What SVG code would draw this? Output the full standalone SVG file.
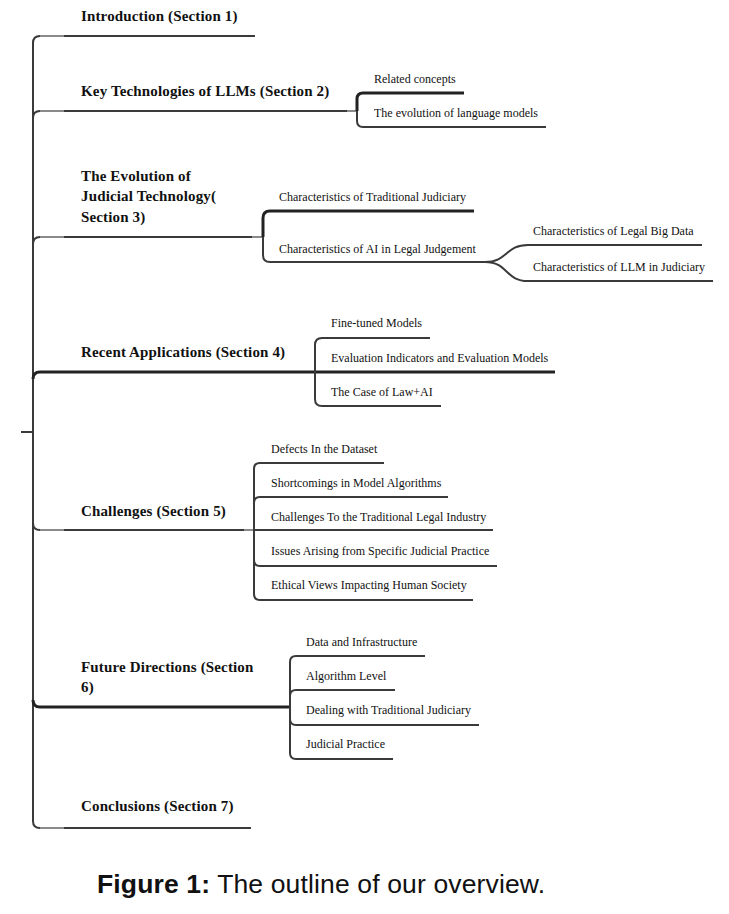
<svg xmlns="http://www.w3.org/2000/svg" width="729" height="914" viewBox="0 0 729 914">
<style>
.main{font-family:"Liberation Serif","Times New Roman",serif;font-weight:bold;font-size:15px;letter-spacing:0.15px;fill:#111;}
.sub{font-family:"Liberation Serif","Times New Roman",serif;font-size:12px;fill:#111;}
.cap{font-family:"Liberation Sans",Arial,sans-serif;font-size:26.5px;fill:#111;}
.ln{fill:none;stroke:#3a3a3a;stroke-width:2;}
.th{stroke:#222;stroke-width:3;}
.lt{fill:none;stroke:#8a8a8a;stroke-width:2;}
</style>
<rect width="729" height="914" fill="#fff"/>
<g id="connectors">
  <!-- trunk -->
  <path class="ln" d="M33,43 V821"/>
  <path class="ln" d="M21,432 H33"/>
  <!-- main branches -->
  <path class="ln" d="M33,43 Q33,36 40,36 H255"/>
  <path class="ln" d="M33,118 Q33,111 40,111 H357"/>
  <path class="ln" d="M33,244 Q33,237 40,237 H263"/>
  <path class="ln th" d="M33,379 Q33,372 40,372 H555"/>
  <path class="ln" d="M33,523 Q33,530 40,530 H254"/>
  <path class="ln th" d="M33,700 Q33,707 40,707 H290"/>
  <path class="ln" d="M33,821 Q33,828 40,828 H251"/>
  <!-- light junction segments -->
  <path class="lt" d="M40,36 H64 M40,111 H64 M40,237 H64 M40,530 H64 M40,828 H64"/>
  <path class="lt" d="M347,111 H357 M252,237 H263 M244,530 H254"/>
  <!-- Section 2 children -->
  <path class="ln th" d="M357,111 V99 Q357,93 363,93 H464"/>
  <path class="ln" d="M357,111 V121 Q357,127 363,127 H546"/>
  <!-- Section 3 children -->
  <path class="ln th" d="M263,237 V218 Q263,211 270,211 H474"/>
  <path class="ln" d="M263,237 V255 Q263,262 270,262 H487"/>
  <path class="ln" d="M485,262 C508,262 505,245 528,245 H702"/>
  <path class="ln" d="M485,262 C508,262 505,281 528,281 H713"/>
  <!-- Section 4 children -->
  <path class="ln" d="M315,372 V345 Q315,338 322,338 H430"/>
  <path class="ln" d="M315,372 V399 Q315,406 322,406 H441"/>
  <!-- Section 5 children -->
  <path class="ln" d="M254,530 V469 Q254,463 260,463 H384"/>
  <path class="ln" d="M254,530 V503 Q254,497 260,497 H448"/>
  <path class="ln" d="M254,530 H493"/>
  <path class="ln" d="M254,530 V560 Q254,566 260,566 H497"/>
  <path class="ln" d="M254,530 V594 Q254,600 260,600 H473"/>
  <!-- Section 6 children -->
  <path class="ln" d="M290,707 V662 Q290,656 296,656 H425"/>
  <path class="ln" d="M290,707 V696 Q290,690 296,690 H395"/>
  <path class="ln" d="M290,707 V719 Q290,725 296,725 H479"/>
  <path class="ln" d="M290,707 V753 Q290,759 296,759 H393"/>
</g>
<g id="sec1"><text class="main" x="81" y="21">Introduction (Section 1)</text></g>
<g id="sec2"><text class="main" x="81" y="96">Key Technologies of LLMs (Section 2)</text></g>
<g id="sec2-1"><text class="sub" x="374" y="83">Related concepts</text></g>
<g id="sec2-2"><text class="sub" x="374" y="117">The evolution of language models</text></g>
<g id="sec3"><text class="main" x="81" y="181">The Evolution of</text><text class="main" x="81" y="201">Judicial Technology(</text><text class="main" x="81" y="222">Section 3)</text></g>
<g id="sec3-1"><text class="sub" x="279" y="201">Characteristics of Traditional Judiciary</text></g>
<g id="sec3-2"><text class="sub" x="279" y="253">Characteristics of AI in Legal Judgement</text></g>
<g id="sec3-2-1"><text class="sub" x="533" y="235">Characteristics of Legal Big Data</text></g>
<g id="sec3-2-2"><text class="sub" x="533" y="271">Characteristics of LLM in Judiciary</text></g>
<g id="sec4"><text class="main" x="81" y="357">Recent Applications (Section 4)</text></g>
<g id="sec4-1"><text class="sub" x="331" y="327">Fine-tuned Models</text></g>
<g id="sec4-2"><text class="sub" x="331" y="362">Evaluation Indicators and Evaluation Models</text></g>
<g id="sec4-3"><text class="sub" x="331" y="396">The Case of Law+AI</text></g>
<g id="sec5"><text class="main" x="81" y="516">Challenges (Section 5)</text></g>
<g id="sec5-1"><text class="sub" x="271" y="453">Defects In the Dataset</text></g>
<g id="sec5-2"><text class="sub" x="271" y="487">Shortcomings in Model Algorithms</text></g>
<g id="sec5-3"><text class="sub" x="271" y="521">Challenges To the Traditional Legal Industry</text></g>
<g id="sec5-4"><text class="sub" x="271" y="555">Issues Arising from Specific Judicial Practice</text></g>
<g id="sec5-5"><text class="sub" x="271" y="589">Ethical Views Impacting Human Society</text></g>
<g id="sec6"><text class="main" x="81" y="672">Future Directions (Section</text><text class="main" x="81" y="692">6)</text></g>
<g id="sec6-1"><text class="sub" x="306" y="646">Data and Infrastructure</text></g>
<g id="sec6-2"><text class="sub" x="306" y="680">Algorithm Level</text></g>
<g id="sec6-3"><text class="sub" x="306" y="714">Dealing with Traditional Judiciary</text></g>
<g id="sec6-4"><text class="sub" x="306" y="748">Judicial Practice</text></g>
<g id="sec7"><text class="main" x="81" y="811">Conclusions (Section 7)</text></g>
<g id="caption"><text class="cap" x="97" y="893" textLength="448" lengthAdjust="spacing"><tspan font-weight="bold">Figure 1:</tspan> The outline of our overview.</text></g>
</svg>
